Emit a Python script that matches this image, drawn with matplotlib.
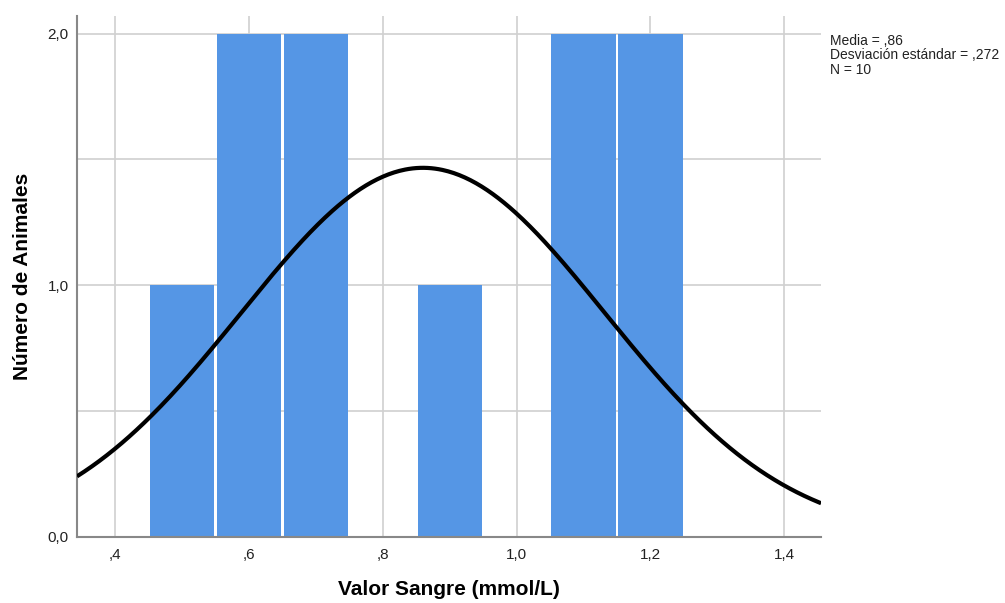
import numpy as np
import matplotlib.pyplot as plt

plt.rcParams['font.family'] = ['Liberation Sans', 'DejaVu Sans']

# histogram bins (left edge) and counts
bin_left = [0.45, 0.55, 0.65, 0.85, 1.05, 1.15]
counts = [1, 2, 2, 1, 2, 2]
bin_width = 0.1

# summary statistics
media = 0.86
desv = 0.272
n = 10

BAR_COLOR = "#5596e5"
GRID_COLOR = "#d0d0d0"
GAP = 0.004  # thin white gap between adjacent bars

fig = plt.figure(figsize=(10.05, 6.03), dpi=100)
ax = fig.add_axes([0.0766, 0.1095, 0.7404, 0.864])

ax.bar(np.array(bin_left) + GAP / 2, counts, width=bin_width - GAP, align='edge',
       color=BAR_COLOR, linewidth=0, zorder=2)

# normal curve scaled to counts
xs = np.linspace(0.343, 1.455, 400)
ys = n * bin_width / (desv * np.sqrt(2 * np.pi)) * np.exp(-0.5 * ((xs - media) / desv) ** 2)
ax.plot(xs, ys, color='black', linewidth=3, zorder=3, solid_capstyle='butt')

ax.set_xlim(0.343, 1.455)
ax.set_ylim(0, 2.07)

ax.set_xticks([0.4, 0.6, 0.8, 1.0, 1.2, 1.4])
ax.set_xticklabels([",4", ",6", ",8", "1,0", "1,2", "1,4"])
ax.set_yticks([0, 1, 2])
ax.set_yticklabels(["0,0", "1,0", "2,0"])
ax.set_yticks([0.5, 1.5], minor=True)

ax.grid(True, which='major', color=GRID_COLOR, linewidth=1.2, zorder=0)
ax.grid(True, which='minor', axis='y', color=GRID_COLOR, linewidth=1.2, zorder=0)
ax.set_axisbelow(True)
ax.tick_params(which='both', length=0, labelsize=11, colors='#222222')
ax.tick_params(axis='x', pad=8)
ax.tick_params(axis='y', pad=6)

for side in ['top', 'right']:
    ax.spines[side].set_visible(False)
for side in ['left', 'bottom']:
    ax.spines[side].set_color('#888888')
    ax.spines[side].set_linewidth(1.5)

ax.set_xlabel("Valor Sangre (mmol/L)", fontsize=15, fontweight='bold', labelpad=13)
ax.set_ylabel("Número de Animales", fontsize=15, fontweight='bold', labelpad=11)

fig.text(0.826, 0.944,
         "Media = ,86\nDesviación estándar = ,272\nN = 10",
         fontsize=10, va='top', ha='left', linespacing=1.05, color='#222222')

plt.savefig("out.png", dpi=100)
